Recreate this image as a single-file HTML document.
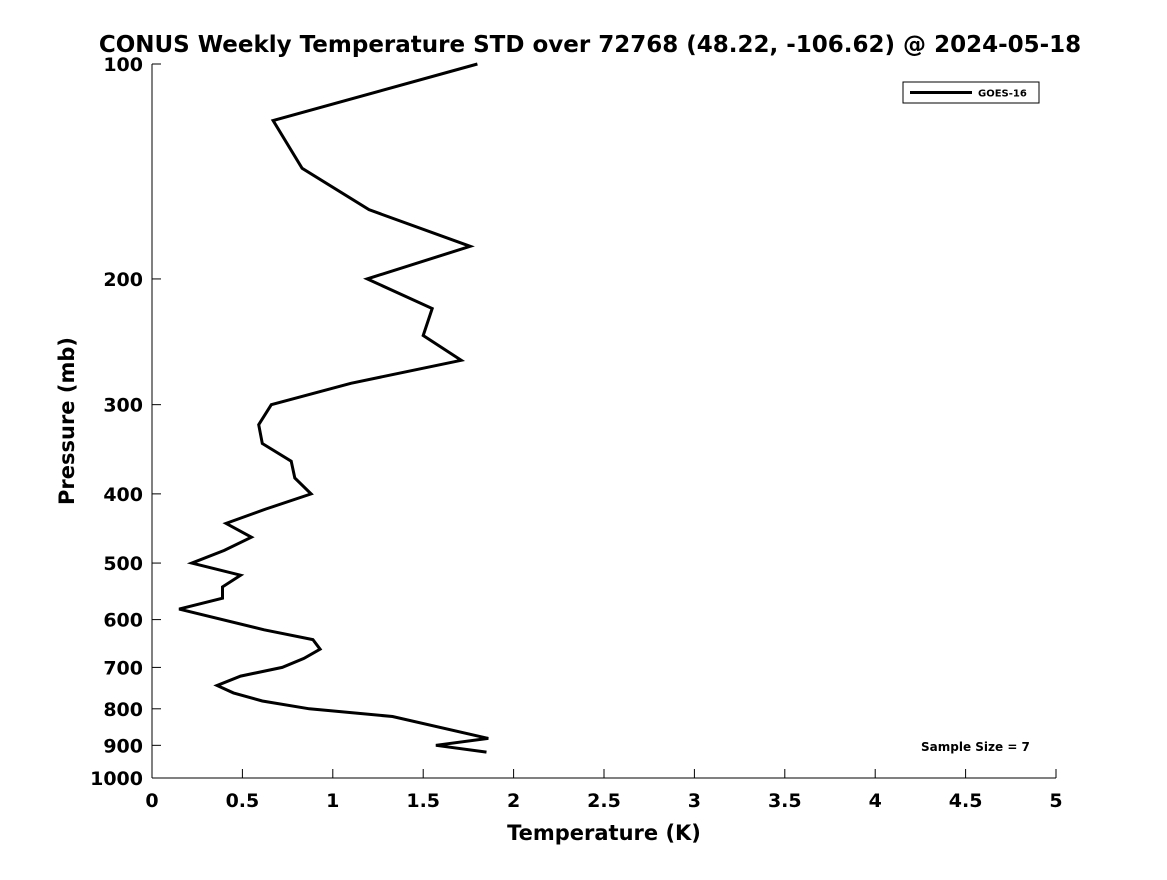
<!DOCTYPE html>
<html><head><meta charset="utf-8"><style>
body{margin:0;background:#fff;}
svg text{font-family:"DejaVu Sans","Liberation Sans",sans-serif;font-weight:bold;fill:#000;}
</style></head><body>
<svg id="chart" width="1167" height="875" xmlns="http://www.w3.org/2000/svg">
<rect width="1167" height="875" fill="#fff"/>
<text x="590" y="52" font-size="23" text-anchor="middle">CONUS Weekly Temperature STD over 72768 (48.22, -106.62) @ 2024-05-18</text>
<g id="axes"></g>
<g id="plot"></g>
<g>
<rect x="903" y="82" width="136" height="21" fill="#fff" stroke="#000" stroke-width="1"/>
<line x1="910" y1="92.5" x2="972" y2="92.5" stroke="#000" stroke-width="3"/>
<text x="978" y="96.5" font-size="10">GOES-16</text>
</g>
<text x="921" y="751" font-size="12">Sample Size = 7</text>
<text x="604" y="840" font-size="21" text-anchor="middle">Temperature (K)</text>
<text transform="translate(74,421) rotate(-90)" font-size="21" text-anchor="middle">Pressure (mb)</text>
</svg>
<script>
const pressures=[100,120,140,160,180,200,220,240,260,280,300,320,340,360,380,400,420,440,460,480,500,520,540,560,580,620,640,660,680,700,720,742,760,780,800,820,880,900,920];
const stdValues=[1.80,0.67,0.83,1.20,1.76,1.19,1.55,1.50,1.71,1.10,0.66,0.59,0.61,0.77,0.79,0.88,0.63,0.41,0.55,0.40,0.22,0.49,0.39,0.39,0.15,0.62,0.89,0.93,0.84,0.72,0.49,0.36,0.45,0.61,0.87,1.33,1.86,1.57,1.85];
const xTicks=[0,0.5,1,1.5,2,2.5,3,3.5,4,4.5,5];
const yTicks=[100,200,300,400,500,600,700,800,900,1000];
const NS="http://www.w3.org/2000/svg";
const X0=152,X1=1056,Y0=64,Y1=778;
function xs(v){return X0+(v/5)*(X1-X0);}
function ys(p){return Y0+(Math.log10(p)-2)*(Y1-Y0);}
const axes=document.getElementById('axes');
function mk(tag,attrs,parent){const e=document.createElementNS(NS,tag);for(const k in attrs)e.setAttribute(k,attrs[k]);parent.appendChild(e);return e;}
const xa=mk('line',{x1:X0,y1:Y1,x2:X1,y2:Y1,stroke:'#000','stroke-width':1},axes);


const ya=mk('line',{x1:X0,y1:Y0,x2:X0,y2:Y1,stroke:'#000','stroke-width':1},axes);


xTicks.forEach(t=>{
  const x=xs(t);
  const l=mk('line',{x1:x,y1:Y1,x2:x,y2:Y1-9,stroke:'#000'},axes);
  
  
  const tx=mk('text',{x:x,y:Y1+29,'font-size':19,'text-anchor':'middle'},axes);
  tx.textContent=String(t);
  
  
});
yTicks.forEach(t=>{
  const y=ys(t);
  const l=mk('line',{x1:X0,y1:y,x2:X0+9,y2:y,stroke:'#000'},axes);
  
  
  const tx=mk('text',{x:X0-9,y:y+7,'font-size':19,'text-anchor':'end'},axes);
  tx.textContent=String(t);
  
  
});
const pts=pressures.map((p,i)=>xs(stdValues[i]).toFixed(1)+','+ys(p).toFixed(1)).join(' ');
const pl=mk('polyline',{points:pts,fill:'none',stroke:'#000','stroke-width':3,'stroke-linejoin':'miter'},document.getElementById('plot'));


</script>
</body></html>
